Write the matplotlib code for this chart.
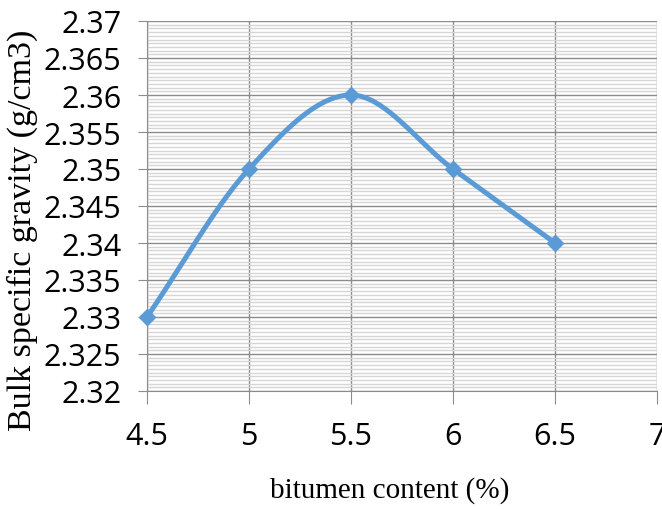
import numpy as np
import matplotlib
matplotlib.use("Agg")
import matplotlib.pyplot as plt
from matplotlib.ticker import MultipleLocator

bitumen = [4.5, 5.0, 5.5, 6.0, 6.5]
gravity = [2.33, 2.35, 2.36, 2.35, 2.34]
xticks = [4.5, 5, 5.5, 6, 6.5, 7]
xticklabels = ["4.5", "5", "5.5", "6", "6.5", "7"]
yticks = [2.32, 2.325, 2.33, 2.335, 2.34, 2.345, 2.35, 2.355, 2.36, 2.365, 2.37]
yticklabels = ["2.32", "2.325", "2.33", "2.335", "2.34", "2.345", "2.35", "2.355", "2.36", "2.365", "2.37"]

tick_family = ["Open Sans", "DejaVu Sans"]

def smooth(x, y, n=40, t=0.5):
    # Catmull-Rom (Excel-like smoothed line) through the data points
    x = np.asarray(x, float); y = np.asarray(y, float)
    px = np.concatenate([[2*x[0]-x[1]], x, [2*x[-1]-x[-2]]])
    py = np.concatenate([[2*y[0]-y[1]], y, [2*y[-1]-y[-2]]])
    xs, ys = [], []
    s = np.linspace(0, 1, n)
    for i in range(1, len(px)-2):
        p0, p1, p2, p3 = [np.array([px[j], py[j]]) for j in (i-1, i, i+1, i+2)]
        m1 = t*(p2-p0); m2 = t*(p3-p1)
        h00 = 2*s**3-3*s**2+1; h10 = s**3-2*s**2+s; h01 = -2*s**3+3*s**2; h11 = s**3-s**2
        pts = np.outer(h00, p1)+np.outer(h10, m1)+np.outer(h01, p2)+np.outer(h11, m2)
        xs.extend(pts[:, 0]); ys.extend(pts[:, 1])
    return np.array(xs), np.array(ys)

fig = plt.figure(figsize=(6.62, 5.10), dpi=100)
ax = fig.add_axes([147/662, 1-392/510, 510/662, 370/510])

ax.set_xlim(4.5, 7)
ax.set_ylim(2.32, 2.37)
ax.set_xticks(xticks)
ax.set_xticklabels(xticklabels)
ax.set_yticks(yticks)
ax.set_yticklabels(yticklabels)
ax.yaxis.set_minor_locator(MultipleLocator(0.0005))

ax.grid(True, which="major", axis="both", color="#8c8c8c", linewidth=1.0)
ax.grid(True, which="minor", axis="y", color="#d6d6d6", linewidth=1.0)
ax.set_axisbelow(True)

for side in ["top", "right"]:
    ax.spines[side].set_visible(False)
ax.spines["left"].set_color("#8c8c8c")
ax.spines["bottom"].set_color("#8c8c8c")
ax.tick_params(axis="x", which="major", length=9.5, color="#8c8c8c", direction="out",
               labelsize=22, pad=12)
ax.tick_params(axis="y", which="major", length=6.5, color="#8c8c8c", direction="out",
               labelsize=22, pad=12)
ax.tick_params(axis="y", which="minor", length=0)
for lab in ax.get_xticklabels() + ax.get_yticklabels():
    lab.set_family(tick_family)

sx, sy = smooth(bitumen, gravity)
ax.plot(sx, sy, color="#5b9bd5", linewidth=3.6, solid_capstyle="round", zorder=3)
ax.plot(bitumen, gravity, linestyle="none", marker="D", markersize=8.5,
        color="#5b9bd5", zorder=4, clip_on=False)

fig.text(390/662, 1-491/510, "bitumen content (%)", family=["Liberation Serif"], fontsize=21,
         ha="center", va="center")
fig.text(22/662, 1-230/510, "Bulk specific gravity (g/cm3)", family=["Liberation Serif"], fontsize=24.5,
         ha="center", va="center", rotation=90)

fig.savefig("out.png", dpi=100)
